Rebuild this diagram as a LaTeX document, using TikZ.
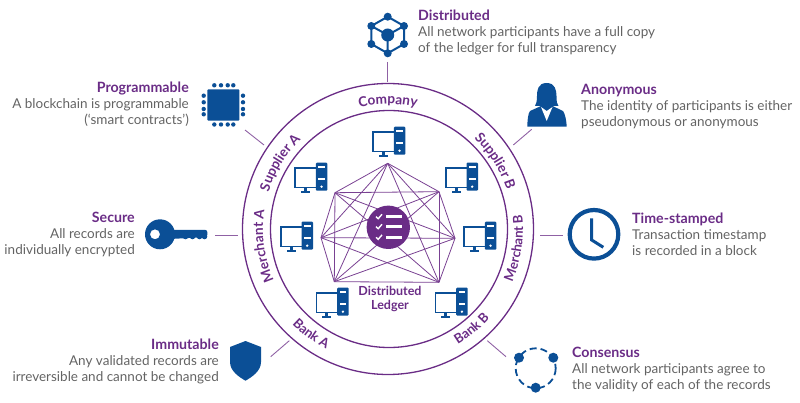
\documentclass[tikz,border=0pt]{standalone}
\usepackage{fontspec}
\setmainfont{Lato}
\usetikzlibrary{decorations.text}

\definecolor{ledgerblue}{HTML}{0B4F96}
\definecolor{ledgerpurple}{HTML}{6A2C86}
\definecolor{ledgergrey}{HTML}{636363}

\tikzset{
  ring/.style={draw=ledgerpurple, line width=1.3pt},
  spoke/.style={draw=ledgerpurple!75, line width=0.9pt},
  mesh/.style={draw=ledgerpurple!90, line width=0.8pt},
  icon/.style={fill=ledgerblue, draw=none},
  infoleft/.style={anchor=west, align=left, inner sep=0pt, text=ledgergrey,
    font=\fontsize{13.5}{16}\selectfont},
  inforight/.style={anchor=east, align=right, inner sep=0pt, text=ledgergrey,
    font=\fontsize{13.5}{16}\selectfont},
  computer/.pic={
    \fill[ledgerblue, rounded corners=1pt] (21.5,0) rectangle (33,28);
    \fill[white] (24,3) rectangle (30.5,5);
    \fill[white] (24,15) rectangle (30.5,17);
    \fill[white] (27.2,24) circle (1.3);
    \draw[ledgerblue, line width=1.5pt] (21.5,5.5) -- (0.8,5.5) -- (0.8,25) -- (21.5,25);
    \fill[ledgerblue] (9.5,25) rectangle (12.5,29);
    \fill[ledgerblue] (6.5,28.5) rectangle (15.5,30);
  }
}

\newcommand{\ttl}[1]{{\fontsize{14.2}{16}\selectfont\bfseries\color{ledgerpurple}#1}}
% ring text: screen angle, text; clockwise or anticlockwise
\newcommand{\ringcw}[2]{
  \path[decorate, decoration={text along path, text align=center,
    text={|\fontsize{13.6}{13.6}\selectfont\bfseries\color{ledgerpurple}|#2}}]
    ([shift={(-#1-45:125)}]ctr) arc[start angle=-#1-45, end angle=-#1+45, radius=125];
}
\newcommand{\ringccw}[2]{
  \path[decorate, decoration={text along path, text align=center,
    text={|\fontsize{13.2}{13.2}\selectfont\bfseries\color{ledgerpurple}|#2}}]
    ([shift={(-#1+45:135)}]ctr) arc[start angle=-#1+45, end angle=-#1-45, radius=135];
}

\begin{document}
\begin{tikzpicture}[x=1pt, y=-1pt]
  \useasboundingbox (0,0) rectangle (800,403);
  \coordinate (ctr) at (388,229);

  % Rings
  \draw[ring] (ctr) circle (145.5);
  \draw[ring] (389,229) circle (118.5);

  % Ring labels
  \ringcw{90}{Company}
  \ringcw{148.5}{Supplier A}
  \ringcw{32.3}{Supplier B}
  \ringcw{187.8}{Merchant A}
  \ringccw{-8.5}{Merchant B}
  \ringccw{233.7}{Bank A}
  \ringccw{-50}{Bank B}

  % Mesh corners
  \foreach \n/\x/\y in {1/387.7/163.3, 2/439/191.7, 3/455/238.3, 4/439/282.3,
                        5/334.3/281.7, 6/321/237.7, 7/335/192.7}
    \coordinate (v\n) at (\x,\y);
  \foreach \a/\rest in {1/{2,3,4,5,6,7}, 2/{3,4,5,6,7}, 3/{4,5,6,7}, 4/{5,6,7}, 5/{6,7}, 6/{7}}
    \foreach \b in \rest
      \draw[mesh] (v\a) -- (v\b);

  % Computers
  \foreach \n/\x/\y in {top/372.3/126.7, ul/294.3/162.7, ur/445/162.7, l/280/221.7,
                        r/463.3/221.7, ll/315.7/287.7, lr/434.7/287.7}
    \pic (pc\n) at (\x,\y) {computer};

  % Ledger disc
  \node[circle, fill=ledgerpurple, minimum size=43.4pt, inner sep=0pt] (ledger) at (388.3,227.3) {};
  \foreach \y in {216.7, 226.7, 237.3}
  {
    \draw[white, line width=1.4pt] (376,\y) -- (378.2,\y+2) -- (382,\y-2.4);
    \draw[white, line width=2.6pt] (386,\y) -- (401.7,\y);
  }
  \node[align=center, inner sep=0pt, text=ledgerpurple, font=\fontsize{12.5}{14.5}\selectfont\bfseries] (ledgertext) at (390,299)
    {Distributed\\Ledger};

  % Distributed icon
  \foreach \n/\x/\y in {a/387.7/16.7, b/404/26, c/404/44, d/387.7/53.3, e/371.3/44, f/371.3/26, g/387.7/35}
    \coordinate (h\n) at (\x,\y);
  \draw[ledgerblue, line width=2pt] (ha) -- (hb) -- (hc) -- (hd) -- (he) -- (hf) -- cycle;
  \draw[ledgerblue, line width=2pt] (hf) -- (hg) -- (hb) (hg) -- (hd);
  \foreach \n in {a,b,c,d,e,f}
    \fill[icon] (h\n) circle (4);
  \fill[icon] (hg) circle (6.5);

  % Anonymous icon
  \fill[icon] (546.7,83) .. controls (538,83) and (537,90) .. (537,96)
    .. controls (537,102) and (536,104) .. (535,106) -- (558.5,106)
    .. controls (557,104) and (556.5,102) .. (556.5,96)
    .. controls (556.5,90) and (555,83) .. (546.7,83) -- cycle;
  \fill[icon] (542,104) rectangle (551.5,110);
  \fill[icon] (541,106) -- (530,111) .. controls (528,113) and (527.3,122) .. (527.3,126.7)
    -- (566.7,126.7) .. controls (566.7,122) and (565,113) .. (563,111) -- (552.5,106) -- cycle;
  \fill[white] (541,107) -- (546.7,121) -- (552.5,107) -- (546.7,111) -- cycle;

  % Chip icon
  \fill[icon, rounded corners=1pt] (207.3,89.3) rectangle (239.3,120.7);
  \foreach \t in {214.3, 221, 227.7, 233.3}
  {
    \fill[icon] (\t,85.3) circle (2.2);
    \fill[icon] (\t,124.5) circle (2.2);
  }
  \foreach \t in {95.7, 102.3, 109, 114.3}
  {
    \fill[icon] (203.7,\t) circle (2.2);
    \fill[icon] (243,\t) circle (2.2);
  }

  % Key icon
  \fill[icon, rounded corners=2pt] (170,230) -- (207.3,230) -- (207.3,237) -- (170,239) -- cycle;
  \foreach \t in {185.5, 192.5, 199.5, 204.5}
    \fill[icon] (\t,236.5) circle (2.8);
  \fill[icon, even odd rule] (160,234.3) circle (15) (155,234.3) circle (5);

  % Clock icon
  \draw[ledgerblue, line width=4.2pt] (594,234.3) circle (24.3);
  \draw[ledgerblue, line width=3pt] (591.7,218.3) -- (591.7,240) -- (603.3,247.3);

  % Consensus icon
  \draw[ledgerblue, line width=1.8pt, dash pattern=on 7pt off 4pt] (535.7,368.3) circle (20);
  \fill[icon] (519,357.7) circle (5);
  \fill[icon] (553.3,357.7) circle (5);
  \fill[icon] (535.7,387.7) circle (5);

  % Shield icon
  \fill[icon] (245.5,341) -- (261,347) -- (261,362) .. controls (261,371) and (252,377) .. (245.5,380.7)
    .. controls (239,377) and (230,371) .. (230,362) -- (230,347) -- cycle;

  % Labels
  \node[infoleft] (distributed) at (418,32) {\ttl{Distributed}\\All network participants have a full copy\\of the ledger for full transparency};
  \node[infoleft] (anonymous) at (581,107) {\ttl{Anonymous}\\The identity of participants is either\\pseudonymous or anonymous};
  \node[infoleft] (timestamped) at (632,234.5) {\ttl{Time-stamped}\\Transaction timestamp\\is recorded in a block};
  \node[infoleft] (consensus) at (572,369.5) {\ttl{Consensus}\\All network participants agree to\\the validity of each of the records};
  \node[inforight] (programmable) at (189,104.5) {\ttl{Programmable}\\A blockchain is programmable\\(‘smart contracts’)};
  \node[inforight] (secure) at (135,234.5) {\ttl{Secure}\\All records are\\individually encrypted};
  \node[inforight] (immutable) at (219,361.5) {\ttl{Immutable}\\Any validated records are\\irreversible and cannot be changed};

  % Spokes
  \foreach \n/\ax/\ay/\bx/\by in {n/387/62/387/82, ne/531.7/129.3/513.3/145, e/540/235/562.7/235,
      se/487.3/340.7/506/356.7, sw/289.3/340.7/270.7/356.7, w/215/235/238.3/235, nw/245/130/264/145}
  {
    \coordinate (s\n a) at (\ax,\ay);
    \coordinate (s\n b) at (\bx,\by);
    \draw[spoke] (s\n a) -- (s\n b);
  }
\end{tikzpicture}
\end{document}
